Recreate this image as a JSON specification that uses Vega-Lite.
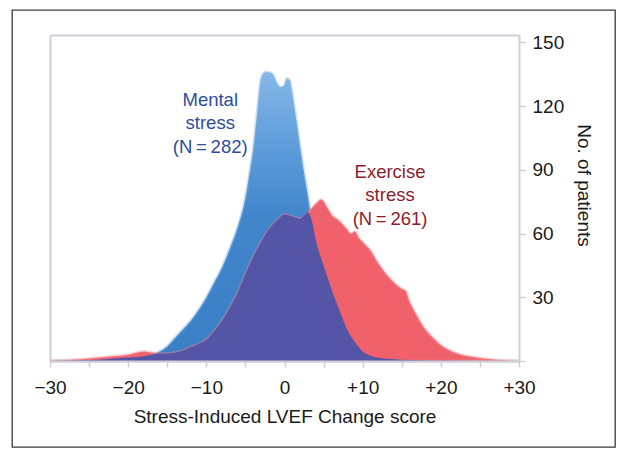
{
  "$schema": "https://vega.github.io/schema/vega-lite/v6.json",
  "width": 603,
  "height": 437,
  "autosize": {"type": "none"},
  "padding": {"left": 12, "top": 10, "right": 8, "bottom": 8},
  "background": "white",
  "config": {
    "view": {"stroke": "#3a3a3a", "strokeWidth": 1.3},
    "font": "Liberation Sans",
    "axis": {"labelFont": "Liberation Sans", "titleFont": "Liberation Sans", "labelFontSize": 19, "titleFontSize": 19, "titleFontWeight": "normal", "labelColor": "#1a1a1a", "titleColor": "#1a1a1a", "domainColor": "#cfd0d8", "domainWidth": 2, "tickColor": "#cfd0d8", "tickWidth": 1.5, "grid": false, "labelFlush": false}
  },
  "datasets": {
    "mental": [
      {"x": -30, "n": 0}, {"x": -26, "n": 0.3}, {"x": -24, "n": 0.6}, {"x": -22, "n": 1.2}, {"x": -20, "n": 1.6},
      {"x": -18, "n": 2.2}, {"x": -17, "n": 3}, {"x": -16, "n": 4.5}, {"x": -15, "n": 7}, {"x": -14, "n": 11},
      {"x": -13, "n": 15}, {"x": -12, "n": 19}, {"x": -11, "n": 24}, {"x": -10, "n": 30}, {"x": -9, "n": 37},
      {"x": -8, "n": 44}, {"x": -7, "n": 53}, {"x": -6, "n": 63}, {"x": -5, "n": 77}, {"x": -4.5, "n": 88},
      {"x": -4, "n": 100}, {"x": -3.5, "n": 117}, {"x": -3, "n": 133}, {"x": -2.5, "n": 136}, {"x": -2, "n": 136},
      {"x": -1.5, "n": 135}, {"x": -1, "n": 131}, {"x": -0.5, "n": 129}, {"x": 0, "n": 130}, {"x": 0.3, "n": 133},
      {"x": 0.7, "n": 132}, {"x": 1, "n": 126}, {"x": 1.5, "n": 114}, {"x": 2, "n": 101}, {"x": 2.5, "n": 89},
      {"x": 3, "n": 78}, {"x": 3.5, "n": 66}, {"x": 4, "n": 57}, {"x": 5, "n": 45}, {"x": 6, "n": 34},
      {"x": 7, "n": 24}, {"x": 8, "n": 15}, {"x": 9, "n": 9}, {"x": 10, "n": 4.5}, {"x": 11, "n": 2.5},
      {"x": 12, "n": 1.5}, {"x": 14, "n": 0.8}, {"x": 16, "n": 0.5}, {"x": 20, "n": 0.2}, {"x": 25, "n": 0}, {"x": 30, "n": 0}
    ],
    "exercise": [
      {"x": -30, "n": 0}, {"x": -28, "n": 0.3}, {"x": -26, "n": 0.8}, {"x": -24, "n": 1.5}, {"x": -22, "n": 2.2},
      {"x": -20, "n": 3}, {"x": -18, "n": 4.5}, {"x": -17, "n": 4}, {"x": -16, "n": 3.5}, {"x": -15, "n": 3.5},
      {"x": -14, "n": 4}, {"x": -13, "n": 5}, {"x": -12, "n": 6.5}, {"x": -11, "n": 8}, {"x": -10, "n": 10},
      {"x": -9, "n": 14}, {"x": -8, "n": 19}, {"x": -7, "n": 25}, {"x": -6, "n": 32}, {"x": -5, "n": 41},
      {"x": -4, "n": 49}, {"x": -3, "n": 56}, {"x": -2, "n": 62}, {"x": -1, "n": 66}, {"x": 0, "n": 69},
      {"x": 1, "n": 68}, {"x": 2, "n": 67}, {"x": 3, "n": 70}, {"x": 4, "n": 74}, {"x": 4.7, "n": 76},
      {"x": 5.5, "n": 72}, {"x": 6, "n": 69}, {"x": 7, "n": 66}, {"x": 8, "n": 62}, {"x": 8.5, "n": 60},
      {"x": 9, "n": 61}, {"x": 9.5, "n": 58}, {"x": 10, "n": 56}, {"x": 11, "n": 52}, {"x": 12, "n": 46},
      {"x": 13, "n": 41}, {"x": 14, "n": 37}, {"x": 15, "n": 34}, {"x": 15.5, "n": 33}, {"x": 16, "n": 28},
      {"x": 17, "n": 21}, {"x": 18, "n": 15}, {"x": 19, "n": 11}, {"x": 20, "n": 7.5}, {"x": 21, "n": 5.2},
      {"x": 22, "n": 3.7}, {"x": 24, "n": 2}, {"x": 26, "n": 1}, {"x": 28, "n": 0.3}, {"x": 30, "n": 0}
    ],
    "overlap": [
      {"x": -30, "n": 0}, {"x": -26, "n": 0.3}, {"x": -24, "n": 0.6}, {"x": -22, "n": 1.2}, {"x": -20, "n": 1.6},
      {"x": -18, "n": 2.2}, {"x": -17, "n": 3}, {"x": -16, "n": 3.5}, {"x": -15, "n": 3.5}, {"x": -14, "n": 4},
      {"x": -13, "n": 5}, {"x": -12, "n": 6.5}, {"x": -11, "n": 8}, {"x": -10, "n": 10}, {"x": -9, "n": 14},
      {"x": -8, "n": 19}, {"x": -7, "n": 25}, {"x": -6, "n": 32}, {"x": -5, "n": 41}, {"x": -4, "n": 49},
      {"x": -3, "n": 56}, {"x": -2, "n": 62}, {"x": -1, "n": 66}, {"x": 0, "n": 69}, {"x": 1, "n": 68},
      {"x": 2, "n": 67}, {"x": 2.5, "n": 68.5}, {"x": 3, "n": 70}, {"x": 3.5, "n": 66}, {"x": 4, "n": 57},
      {"x": 5, "n": 45}, {"x": 6, "n": 34}, {"x": 7, "n": 24}, {"x": 8, "n": 15}, {"x": 9, "n": 9},
      {"x": 10, "n": 4.5}, {"x": 11, "n": 2.5}, {"x": 12, "n": 1.5}, {"x": 14, "n": 0.8}, {"x": 16, "n": 0.5},
      {"x": 20, "n": 0.2}, {"x": 25, "n": 0}, {"x": 30, "n": 0}
    ],
    "labels": [
      {"group": "Mental", "x": -9.5, "n": 123, "text": "Mental"},
      {"group": "Mental", "x": -9.5, "n": 112, "text": "stress"},
      {"group": "Mental", "x": -9.5, "n": 100.8, "text": "(N\u2009=\u2009282)"},
      {"group": "Exercise", "x": 13.5, "n": 89, "text": "Exercise"},
      {"group": "Exercise", "x": 13.5, "n": 78, "text": "stress"},
      {"group": "Exercise", "x": 13.5, "n": 67, "text": "(N\u2009=\u2009261)"}
    ]
  },
  "resolve": {"axis": {"x": "independent", "y": "independent"}},
  "layer": [
    {
      "data": {"name": "mental"},
      "mark": {"type": "area", "interpolate": "monotone",
        "color": {"gradient": "linear", "x1": 0, "y1": 0, "x2": 0, "y2": 1,
          "stops": [{"offset": 0, "color": "#86b7e6"}, {"offset": 0.25, "color": "#5f9ddb"}, {"offset": 0.5, "color": "#4186cb"}, {"offset": 1, "color": "#3a7fc6"}]},
        "stroke": "#7fb2e3", "strokeWidth": 3, "strokeOpacity": 0.35},
      "encoding": {
        "x": {"field": "x", "type": "quantitative", "scale": {"domain": [-30, 30], "range": [38, 507], "nice": false},
          "axis": {"orient": "bottom", "offset": -86, "values": [-30, -25, -20, -15, -10, -5, 0, 5, 10, 15, 20, 25, 30], "tickSize": 6, "labelPadding": 11,
            "labelExpr": "datum.value % 10 != 0 ? '' : (datum.value > 0 ? '+' + datum.value : (datum.value < 0 ? '\u2212' + abs(datum.value) : '0'))",
            "title": "Stress-Induced LVEF Change score", "titlePadding": 10, "zindex": 1}},
        "y": {"field": "n", "type": "quantitative", "scale": {"domain": [0, 153.5], "range": [351, 25], "nice": false, "zero": true},
          "axis": {"orient": "right", "offset": -96, "values": [0, 30, 60, 90, 120, 150], "tickSize": 6, "labelPadding": 7,
            "labelExpr": "datum.value == 0 ? '' : datum.label", "title": "No. of patients", "titleAngle": 90, "titlePadding": 10, "titleY": 175, "zindex": 1}}
      }
    },
    {
      "data": {"name": "exercise"},
      "mark": {"type": "area", "interpolate": "monotone", "color": "#f0616b", "stroke": "#f48a92", "strokeWidth": 3, "strokeOpacity": 0.35},
      "encoding": {
        "x": {"field": "x", "type": "quantitative", "axis": null},
        "y": {"field": "n", "type": "quantitative", "axis": null}
      }
    },
    {
      "data": {"name": "overlap"},
      "mark": {"type": "area", "interpolate": "monotone", "color": "#5455a7"},
      "encoding": {
        "x": {"field": "x", "type": "quantitative", "axis": {"orient": "top", "offset": -25, "labels": false, "ticks": false, "title": null}},
        "y": {"field": "n", "type": "quantitative", "axis": {"orient": "left", "offset": -38, "labels": false, "ticks": false, "title": null}}
      }
    },
    {
      "data": {"name": "labels"},
      "transform": [{"filter": "datum.group == 'Mental'"}],
      "mark": {"type": "text", "fontSize": 18.5, "font": "Liberation Sans", "color": "#2e4da0", "align": "center", "baseline": "middle"},
      "encoding": {
        "x": {"field": "x", "type": "quantitative", "axis": null},
        "y": {"field": "n", "type": "quantitative", "axis": null},
        "text": {"field": "text"}
      }
    },
    {
      "data": {"name": "labels"},
      "transform": [{"filter": "datum.group == 'Exercise'"}],
      "mark": {"type": "text", "fontSize": 18.5, "font": "Liberation Sans", "color": "#8c1c2c", "align": "center", "baseline": "middle"},
      "encoding": {
        "x": {"field": "x", "type": "quantitative", "axis": null},
        "y": {"field": "n", "type": "quantitative", "axis": null},
        "text": {"field": "text"}
      }
    }
  ]
}
